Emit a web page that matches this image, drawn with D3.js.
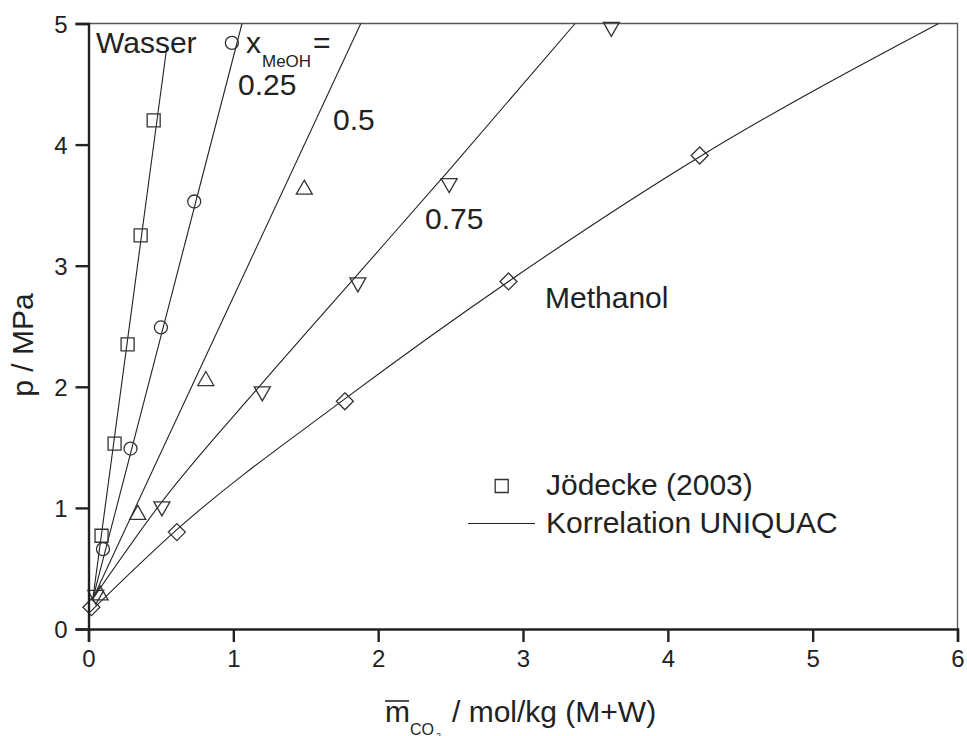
<!DOCTYPE html>
<html>
<head>
<meta charset="utf-8">
<script src="https://cdn.jsdelivr.net/npm/d3@7"></script>
<style>
  body { margin: 0; background: #fff; }
  svg text { font-family: "Liberation Sans", Arial, sans-serif; fill: #222; }
</style>
</head>
<body>
<svg id="chart" width="967" height="736"></svg>
<script>
// tick values
var xTicks = [0, 1, 2, 3, 4, 5, 6];
var yTicks = [0, 1, 2, 3, 4, 5];

// measured points (m CO2, p)
var wasserPts   = [[0.09, 0.77], [0.18, 1.53], [0.27, 2.35], [0.36, 3.25], [0.45, 4.20]];
var meoh25Pts   = [[0.10, 0.66], [0.29, 1.49], [0.50, 2.49], [0.73, 3.53], [0.99, 4.84]];
var meoh50Pts   = [[0.08, 0.29], [0.34, 0.955], [0.81, 2.06], [1.49, 3.64]];
var meoh75Pts   = [[0.05, 0.27], [0.507, 1.00], [1.20, 1.95], [1.86, 2.85], [2.49, 3.67], [3.61, 4.96]];
var methanolPts = [[0.02, 0.18], [0.61, 0.80], [1.77, 1.88], [2.90, 2.87], [4.22, 3.91]];

// UNIQUAC correlation lines
var wasserLine   = [[0.03, 0.25], [0.54, 4.80]];
var meoh25Line   = [[0.03, 0.25], [1.06, 5.0]];
var meoh50Line   = [[0.03, 0.25], [1.88, 5.0]];
var meoh75Line   = [[0.03, 0.25], [0.50, 1.04], [1.20, 2.03], [1.86, 2.93], [2.49, 3.79], [3.36, 5.0]];
var methanolLine = [[0.01, 0.14], [0.61, 0.82], [1.77, 1.90], [2.90, 2.87], [4.22, 3.90], [5.87, 5.0]];

var svg = d3.select("#chart");
var pLeft = 88.5, pRight = 957.5, pTop = 23.5, pBottom = 629;

var x = d3.scaleLinear().domain([0, 6]).range([pLeft, pRight]);
var y = d3.scaleLinear().domain([0, 5]).range([pBottom, pTop]);

svg.append("clipPath").attr("id", "plotClip")
  .append("rect").attr("x", pLeft).attr("y", pTop - 1)
  .attr("width", pRight - pLeft).attr("height", pBottom - pTop + 1);

// top / right frame
svg.append("path")
  .attr("d", "M" + pLeft + "," + pTop + "H" + pRight + "V" + pBottom)
  .attr("fill", "none").attr("stroke", "#555").attr("stroke-width", 1.3);

// lines
var line = d3.line().curve(d3.curveMonotoneX)
  .x(function(d){ return x(d[0]); }).y(function(d){ return y(d[1]); });
var gl = svg.append("g").attr("clip-path", "url(#plotClip)");
[wasserLine, meoh25Line, meoh50Line, meoh75Line, methanolLine].forEach(function(l){
  gl.append("path").attr("d", line(l))
    .attr("fill", "none").attr("stroke", "#222").attr("stroke-width", 1.1);
});

// marker shapes
function square(cx, cy){ var h = 6.5; return "M"+(cx-h)+","+(cy-h)+"h"+2*h+"v"+2*h+"h"+(-2*h)+"Z"; }
function circle(cx, cy){ var r = 6.5; return "M"+(cx-r)+","+cy+"a"+r+","+r+" 0 1,0 "+2*r+",0a"+r+","+r+" 0 1,0 "+(-2*r)+",0Z"; }
function triUp(cx, cy){ return "M"+cx+","+(cy-8)+"L"+(cx+8)+","+(cy+6)+"L"+(cx-8)+","+(cy+6)+"Z"; }
function triDown(cx, cy){ return "M"+cx+","+(cy+8)+"L"+(cx+8)+","+(cy-6)+"L"+(cx-8)+","+(cy-6)+"Z"; }
function diamond(cx, cy){ return "M"+cx+","+(cy-8.5)+"L"+(cx+8.5)+","+cy+"L"+cx+","+(cy+8.5)+"L"+(cx-8.5)+","+cy+"Z"; }

var series = [
  {pts: wasserPts, shape: square},
  {pts: meoh25Pts, shape: circle},
  {pts: meoh50Pts, shape: triUp},
  {pts: meoh75Pts, shape: triDown},
  {pts: methanolPts, shape: diamond}
];
var gm = svg.append("g");
series.forEach(function(s){
  gm.selectAll(null).data(s.pts).enter().append("path")
    .attr("d", function(d){ return s.shape(x(d[0]), y(d[1])); })
    .attr("fill", "none").attr("stroke", "#333").attr("stroke-width", 1.3);
});

// axes
var xAxis = svg.append("g").attr("transform", "translate(0," + pBottom + ")")
  .call(d3.axisBottom(x).tickValues(xTicks).tickSize(13).tickPadding(8).tickFormat(d3.format("d")));
var yAxis = svg.append("g").attr("transform", "translate(" + pLeft + ",0)")
  .call(d3.axisLeft(y).tickValues(yTicks).tickSize(13).tickPadding(8).tickFormat(d3.format("d")));
[xAxis, yAxis].forEach(function(a){
  a.select(".domain").attr("stroke", "#222").attr("stroke-width", 2.4);
  a.selectAll(".tick line").attr("stroke", "#222").attr("stroke-width", 2.4);
  a.selectAll(".tick text").style("font-size", "24px")
    .style("font-family", "'Liberation Sans', Arial, sans-serif").attr("fill", "#222");
});
yAxis.selectAll(".tick text").attr("dy", "0.36em");

// axis titles
svg.append("text").attr("transform", "translate(33,345) rotate(-90)")
  .attr("text-anchor", "middle").style("font-size", "30px").text("p / MPa");

svg.append("text").attr("x", 385).attr("y", 722).style("font-size", "30px").text("m");
svg.append("line").attr("x1", 385).attr("x2", 409).attr("y1", 701).attr("y2", 701)
  .attr("stroke", "#222").attr("stroke-width", 1.6);
svg.append("text").attr("x", 410).attr("y", 735).style("font-size", "16px").text("CO");
svg.append("text").attr("x", 436).attr("y", 739).style("font-size", "9px").text("2");
svg.append("text").attr("x", 452).attr("y", 722).style("font-size", "30px").text("/ mol/kg (M+W)");

// annotations
function label(tx, ty, s, size){
  svg.append("text").attr("x", tx).attr("y", ty).style("font-size", (size || 30) + "px").text(s);
}
label(96, 53, "Wasser");
label(246, 53, "x");
label(262, 67, "MeOH", 17);
label(313, 53, "=");
label(238, 95, "0.25");
label(333, 130, "0.5");
label(425, 229, "0.75");
label(545, 308, "Methanol");

// legend
svg.append("path").attr("d", square(501.7, 486))
  .attr("fill", "none").attr("stroke", "#333").attr("stroke-width", 1.3);
svg.append("line").attr("x1", 468).attr("x2", 535).attr("y1", 523.5).attr("y2", 523.5)
  .attr("stroke", "#222").attr("stroke-width", 1.1);
label(546, 495, "Jödecke (2003)");
label(546, 533, "Korrelation UNIQUAC");
</script>
</body>
</html>
